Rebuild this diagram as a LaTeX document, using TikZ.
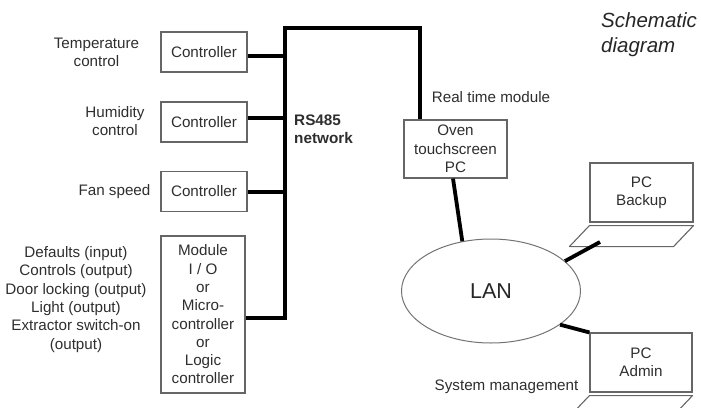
\documentclass[tikz,border=0pt]{standalone}
\usepackage{fontspec}
\setmainfont{Liberation Sans}
\usetikzlibrary{shapes.geometric,calc}
\begin{document}
\begin{tikzpicture}[x=1pt,y=-1pt,
  txt/.style={text=black!82, font=\fontsize{15.2}{18.3}\selectfont, align=center, inner sep=0pt},
  box/.style={draw=black!60, line width=1.1pt, txt},
  thinline/.style={draw=black!60, line width=1.1pt, line join=round},
  wire/.style={line width=3.8pt, black},
  big/.style={text=black!85, font=\fontsize{20.5}{25}\selectfont\itshape, align=left, inner sep=0pt}
]
\useasboundingbox (0,0) rectangle (701,407);
\clip (0,0) rectangle (701,407);

% controllers
\node[box, minimum width=86pt, minimum height=40pt] (c1) at (204,52) {Controller};
\node[box, minimum width=86pt, minimum height=40pt] (c2) at (204,122) {Controller};
\node[box, minimum width=86pt, minimum height=40pt] (c3) at (204,191.5) {Controller};
\node[box, minimum width=84pt, minimum height=157pt] (mod) at (203,314.5)
  {Module\\I / O\\or\\Micro-\\controller\\or\\Logic\\controller};

% left labels
\node[txt] (l1) at (96.5,52.5) {Temperature\\control};
\node[txt] (l2) at (115,121) {Humidity\\control};
\node[txt] (l3) at (114.5,192) {Fan speed};
\node[txt] (l4) at (76,299.5) {Defaults (input)\\Controls (output)\\Door locking (output)\\Light (output)\\Extractor switch-on\\(output)};

% RS485 label
\node[txt, font=\fontsize{15.3}{18}\selectfont\bfseries, align=left, anchor=west] (rs) at (294,129) {RS485\\network};

% oven PC
\node[box, minimum width=103pt, minimum height=58pt] (oven) at (455.5,149) {Oven\\touchscreen\\PC};
\node[txt] (rtm) at (491,97) {Real time module};

% title
\node[big, anchor=west] (title) at (601,34.5) {Schematic\\diagram};

% LAN
\node[draw=black!55, line width=1pt, ellipse, minimum width=179pt, minimum height=104pt, inner sep=0pt,
  text=black!85, font=\fontsize{21.5}{24}\selectfont] (lan) at (491,291) {LAN};

% PC Backup laptop
\node[box, minimum width=103pt, minimum height=59pt] (pcb) at (641.5,192.5) {PC\\Backup};
\draw[thinline] ($(pcb.south west)+(0,3)$) coordinate (pb1) -- ($(pcb.south east)+(0,3)$) -- ++(-20,21) coordinate (pb3) -- ($(pb1)+(-20,21)$) -- cycle;
\coordinate (pcbb) at (600,242);

% PC Admin laptop
\node[box, minimum width=102pt, minimum height=59pt] (pca) at (641,362.5) {PC\\Admin};
\draw[thinline] ($(pca.south west)+(0,3)$) coordinate (pa1) -- ($(pca.south east)+(0,3)$) -- ++(-20,21) -- ($(pa1)+(-20,21)$) -- cycle;
\node[txt] (sm) at (506.5,387) {System management};

% bus
\coordinate (bt) at (285,28);
\coordinate (rt) at (420,28);
\draw[wire] ($(c1.east)+(0,4)$) coordinate (a1) -- (a1 -| bt);
\draw[wire] ($(c2.east)+(0,-4)$) coordinate (a2) -- (a2 -| bt);
\draw[wire] ($(c3.east)+(0,0.5)$) coordinate (a3) -- (a3 -| bt);
\draw[wire] ($(mod.east)+(0,3.5)$) coordinate (a4) -- (a4 -| bt) -- (bt) -- (rt) -- (rt |- oven.north);

% LAN links
\draw[wire] ($(oven.south)+(-2.5,0)$) -- (lan.120);
\draw[wire] (lan.22) -- (pcbb);
\draw[wire] (lan.334) -- (pca.north west);
\end{tikzpicture}
\end{document}
